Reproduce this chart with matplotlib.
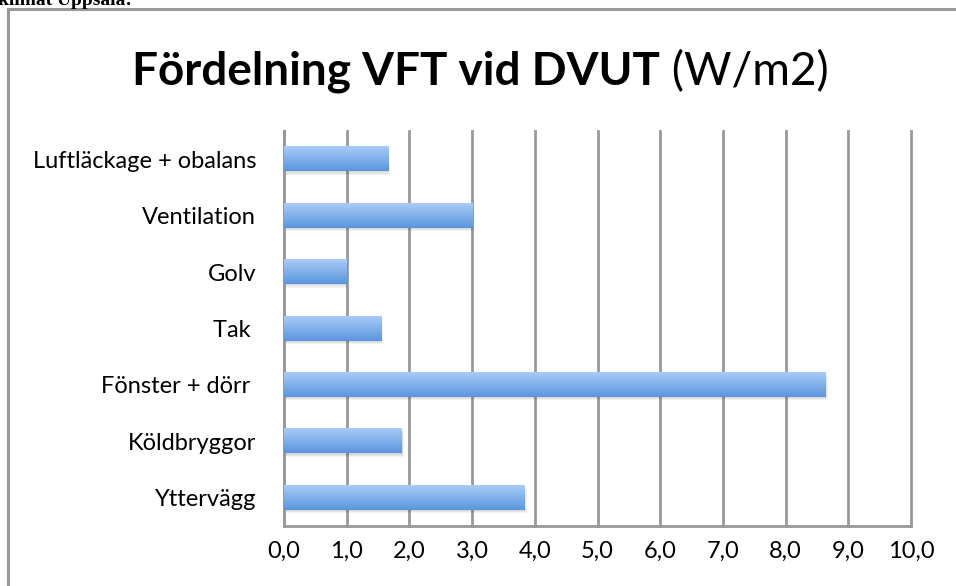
import matplotlib.pyplot as plt
import numpy as np
from matplotlib.patches import Rectangle
from matplotlib.colors import LinearSegmentedColormap

kategorier = ['Yttervägg', 'Köldbryggor', 'Fönster + dörr ', 'Tak ', 'Golv', 'Ventilation', 'Luftläckage + obalans']
varden = [3.84, 1.88, 8.64, 1.55, 0.99, 3.0, 1.66]
xticks = np.arange(0, 11, 1)
xtick_labels = [f"{v:.1f}".replace('.', ',') for v in xticks]


def main():
    plt.rcParams['font.family'] = ['Lato', 'DejaVu Sans']
    fig = plt.figure(figsize=(9.56, 5.86), dpi=100)
    W, H = 956, 586

    # ram runt diagrammet
    fig.patches.append(Rectangle((8 / W, -0.1), 1.2, 1 - 9 / H + 0.1, transform=fig.transFigure,
                                 fill=False, edgecolor='#999999', linewidth=2.2))
    fig.text(-2 / W, 1 - 5 / H, 'klimat Uppsala:', fontsize=14, fontweight='bold',
             family='Liberation Serif', va='baseline', ha='left')

    ax = fig.add_axes([284 / W, 1 - 526 / H, (911 - 284) / W, (526 - 131) / H])
    y = np.arange(len(kategorier))
    hojd = 0.43

    cmap = LinearSegmentedColormap.from_list('blå', ['#5a96dc', '#a9cbf8'])
    grad = np.linspace(0, 1, 64).reshape(-1, 1)
    for yi, v in zip(y, varden):
        # mjuk skugga
        for k, a in enumerate([0.05, 0.05, 0.05]):
            d = 0.02 + 0.02 * k
            ax.add_patch(Rectangle((d * 0.5, yi - hojd / 2 - d), v, hojd, facecolor='#000000',
                                   alpha=a, edgecolor='none', zorder=2))
        ax.imshow(grad, cmap=cmap, aspect='auto', origin='upper',
                  extent=(0, v, yi + hojd / 2, yi - hojd / 2), zorder=3)

    ax.set_xlim(0, 10)
    ax.set_ylim(-0.5, len(kategorier) - 0.5)
    ax.set_xticks(xticks)
    ax.set_xticklabels(xtick_labels, fontsize=17)
    ax.set_yticks(y)
    ax.set_yticklabels(kategorier, fontsize=17)
    ax.tick_params(axis='both', length=0)
    ax.tick_params(axis='x', pad=11)
    ax.tick_params(axis='y', pad=20)
    ax.grid(axis='x', color='#999999', linewidth=2, zorder=1)
    for gl in ax.get_xgridlines():
        gl.set_clip_on(False)
    ax.set_axisbelow(True)
    for s in ['top', 'right']:
        ax.spines[s].set_visible(False)
    for s in ['left', 'bottom']:
        ax.spines[s].set_color('#999999')
        ax.spines[s].set_linewidth(2)

    fig.text(660 / W, 1 - 72 / H, 'Fördelning VFT vid DVUT', fontsize=33, fontweight='bold',
             ha='right', va='center')
    fig.text(660 / W, 1 - 72 / H, ' (W/m2)', fontsize=33, ha='left', va='center')

    fig.savefig('out.png', dpi=100)


if __name__ == "__main__":
    main()
